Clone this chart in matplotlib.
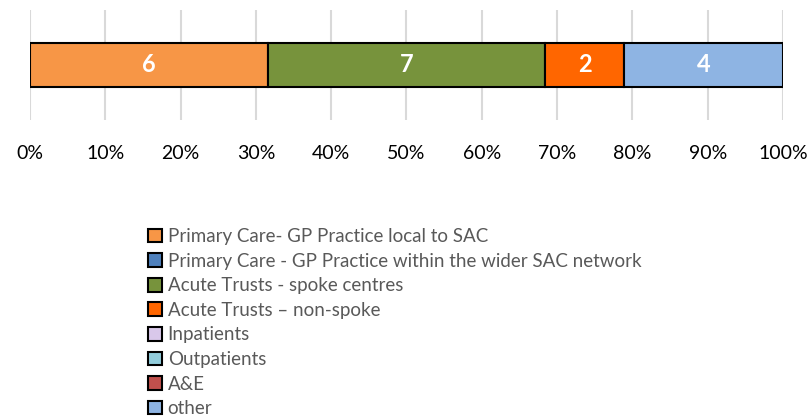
import matplotlib
matplotlib.use("Agg")
import matplotlib.pyplot as plt
from matplotlib.patches import Patch

categories = [
    "Primary Care- GP Practice local to SAC",
    "Primary Care - GP Practice within the wider SAC network",
    "Acute Trusts - spoke centres",
    "Acute Trusts \u2013 non-spoke",
    "Inpatients",
    "Outpatients",
    "A&E",
    "other",
]
counts = [6, 0, 7, 2, 0, 0, 0, 4]
colors = ["#F79646", "#4F81BD", "#77933C", "#FF6600", "#D9C8EA", "#92CDDC", "#C0504D", "#8EB4E3"]
xticks = [0, 10, 20, 30, 40, 50, 60, 70, 80, 90, 100]

plt.rcParams['font.family'] = ['Lato', 'DejaVu Sans']

fig = plt.figure(figsize=(8.12, 4.17), dpi=100)
ax = fig.add_axes([30/812, 1 - 120/417, 753/812, 110/417])

total = sum(counts)
left = 0.0
for cat, c, col in zip(categories, counts, colors):
    pct = c / total * 100
    if c > 0:
        ax.barh(0, pct, left=left, height=0.404, color=col, edgecolor="black", linewidth=1.5, zorder=3)
        ax.text(left + pct / 2, 0, str(c), ha="center", va="center", color="white",
                fontsize=17, fontweight="bold", zorder=4)
    left += pct

ax.set_xlim(0, 100)
ax.set_ylim(-0.5, 0.5)
ax.set_xticks(xticks)
ax.set_xticklabels([f"{t}%" for t in xticks], fontsize=14, color="black")
ax.tick_params(axis="x", length=0, pad=18)
ax.set_yticks([])
ax.grid(axis="x", color="#D9D9D9", linewidth=1.5, zorder=0)
for s in ax.spines.values():
    s.set_visible(False)

handles = [Patch(facecolor=col, edgecolor="black", linewidth=1.5) for col in colors]
leg = fig.legend(handles, categories, loc="upper left", bbox_to_anchor=(148/812, 1 - 228/417),
                 frameon=False, fontsize=13.5, labelcolor="#595959",
                 handlelength=0.75, handleheight=0.75, handletextpad=0.3,
                 labelspacing=0.405, borderpad=0, borderaxespad=0)

fig.savefig("out.png", dpi=100)
